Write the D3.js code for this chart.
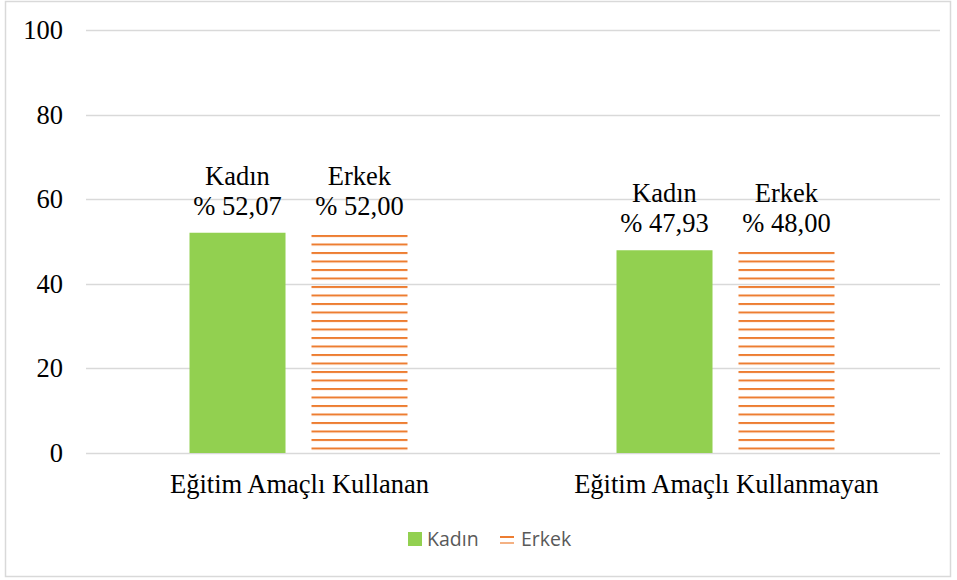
<!DOCTYPE html>
<html>
<head>
<meta charset="utf-8">
<script src="https://cdn.jsdelivr.net/npm/d3@7"></script>
<style>
  body { margin: 0; background: #fff; }
  svg { display: block; }
  .serif { font-family: "Liberation Serif", "Times New Roman", serif; font-size: 26.5px; fill: #000; }
  .leg { font-family: "Open Sans", sans-serif; font-size: 19.5px; fill: #595959; }
</style>
</head>
<body>
<svg width="957" height="580"></svg>
<script>
var categories = ["Eğitim Amaçlı Kullanan", "Eğitim Amaçlı Kullanmayan"];
var seriesNames = ["Kadın", "Erkek"];
var kadin = [52.07, 47.93];
var erkek = [52.00, 48.00];
var labelsKadin = ["% 52,07", "% 47,93"];
var labelsErkek = ["% 52,00", "% 48,00"];
var yTicks = [0, 20, 40, 60, 80, 100];

var svg = d3.select("svg");

svg.append("rect")
  .attr("x", 5.5).attr("y", 1.5)
  .attr("width", 945).attr("height", 575)
  .attr("fill", "#fff").attr("stroke", "#d9d9d9").attr("stroke-width", 1.5);

var defs = svg.append("defs");
var pat = defs.append("pattern")
  .attr("id", "hatch")
  .attr("patternUnits", "userSpaceOnUse")
  .attr("width", 10).attr("height", 8.5)
  .attr("y", 1);
pat.append("rect").attr("x", 0).attr("y", 0).attr("width", 10).attr("height", 2)
  .attr("fill", "#ED7D31");

var margin = {left: 86, right: 17, top: 30, bottom: 127};
var width = 957 - margin.left - margin.right,
    height = 580 - margin.top - margin.bottom;

var g = svg.append("g").attr("transform", "translate(" + margin.left + "," + margin.top + ")");

var x0 = d3.scaleBand().domain(categories).range([0, width]);
var x1 = d3.scaleBand().domain(seriesNames).range([0, 218]).paddingInner(0.213);
var y = d3.scaleLinear().domain([0, 100]).range([height, 0]);

// gridlines
g.selectAll(".grid")
  .data(yTicks)
  .enter().append("line")
  .attr("x1", 0).attr("x2", width)
  .attr("y1", function(d) { return Math.round(y(d)) + 0.5; })
  .attr("y2", function(d) { return Math.round(y(d)) + 0.5; })
  .attr("stroke", "#d9d9d9").attr("stroke-width", 1.3);

// y tick labels
g.selectAll(".ytick")
  .data(yTicks)
  .enter().append("text")
  .attr("class", "serif")
  .attr("x", -23)
  .attr("y", function(d) { return y(d) + 9; })
  .attr("text-anchor", "end")
  .text(function(d) { return d; });

var groups = g.selectAll(".cat")
  .data(categories)
  .enter().append("g")
  .attr("transform", function(d) {
    return "translate(" + (x0(d) + x0.bandwidth() / 2 - 110) + ",0)";
  });

groups.append("rect")
  .attr("x", x1("Kadın"))
  .attr("y", function(d, i) { return y(kadin[i]); })
  .attr("width", x1.bandwidth())
  .attr("height", function(d, i) { return height - y(kadin[i]); })
  .attr("fill", "#92D050");

groups.append("rect")
  .attr("x", x1("Erkek"))
  .attr("y", function(d, i) { return y(erkek[i]); })
  .attr("width", x1.bandwidth())
  .attr("height", function(d, i) { return height - y(erkek[i]); })
  .attr("fill", "url(#hatch)");

// value labels
function addLabel(series, vals, labels) {
  groups.append("text")
    .attr("class", "serif")
    .attr("x", x1(series) + x1.bandwidth() / 2)
    .attr("y", function(d, i) { return y(vals[i]) - 48; })
    .attr("text-anchor", "middle")
    .text(series);
  groups.append("text")
    .attr("class", "serif")
    .attr("x", x1(series) + x1.bandwidth() / 2)
    .attr("y", function(d, i) { return y(vals[i]) - 18; })
    .attr("text-anchor", "middle")
    .text(function(d, i) { return labels[i]; });
}
addLabel("Kadın", kadin, labelsKadin);
addLabel("Erkek", erkek, labelsErkek);

// category labels
g.selectAll(".xlabel")
  .data(categories)
  .enter().append("text")
  .attr("class", "serif")
  .attr("x", function(d) { return x0(d) + x0.bandwidth() / 2; })
  .attr("y", height + 40)
  .attr("text-anchor", "middle")
  .text(function(d) { return d; });

// legend
var legend = svg.append("g").attr("transform", "translate(408,539)");
legend.append("rect").attr("x", 0).attr("y", -7).attr("width", 14).attr("height", 14).attr("fill", "#92D050");
legend.append("text").attr("class", "leg").attr("x", 19).attr("y", 7)
  .text(seriesNames[0]);
legend.append("rect").attr("x", 92).attr("y", -3).attr("width", 14).attr("height", 2).attr("fill", "#ED7D31");
legend.append("rect").attr("x", 92).attr("y", 3).attr("width", 14).attr("height", 2).attr("fill", "#F4B183");
legend.append("text").attr("class", "leg").attr("x", 113).attr("y", 7)
  .text(seriesNames[1]);
</script>
</body>
</html>
